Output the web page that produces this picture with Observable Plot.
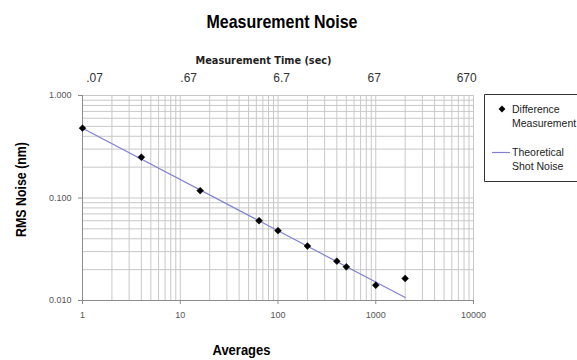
<!DOCTYPE html>
<html>
<head>
<meta charset="utf-8">
<script src="https://cdn.jsdelivr.net/npm/d3@7"></script>
<script src="https://cdn.jsdelivr.net/npm/@observablehq/plot@0.6"></script>
<style>
  html, body { margin: 0; padding: 0; background: white; }
</style>
</head>
<body>
<div id="chart"></div>
<script>
// ---- data ----
const averages = [1, 4, 16, 64, 100, 200, 400, 500, 1000, 2000];
const rmsNoise = [0.48, 0.25, 0.118, 0.060, 0.048, 0.034, 0.0242, 0.0213, 0.0141, 0.0164];
const shotAverages = [1, 2000];
const shotNoise = [0.48, 0.0107];
const xTicks = [1, 10, 100, 1000, 10000];
const xTickLabels = ["1", "10", "100", "1000", "10000"];
// secondary (top) axis: labels and where they sit, expressed in averages units
const topTickLabels = [".07", ".67", "6.7", "67", "670"];
const topTickAt = [1.33, 12.2, 109, 963, 8520];
const yTicks = [1, 0.1, 0.01];
const yTickLabels = ["1.000", "0.100", "0.010"];
const titleText = "Measurement Noise";
const topAxisTitle = "Measurement Time (sec)";
const xAxisTitle = "Averages";
const yAxisTitle = "RMS Noise (nm)";
const legendLines = ["Difference", "Measurement", "Theoretical", "Shot Noise"];

const points = averages.map((a, i) => ({a, v: rmsNoise[i]}));
const shot = shotAverages.map((a, i) => ({a, v: shotNoise[i]}));
const topTicks = topTickLabels.map((label, i) => ({label, at: topTickAt[i]}));
const xGrid = d3.scaleLog().domain([1, 10000]).ticks();
const yGrid = d3.scaleLog().domain([0.01, 1]).ticks();

const boldFont = "'Liberation Sans', Arial, sans-serif";
const gridColor = "#c8c8c8";
const axisColor = "#8c8c8c";
const lineColor = "#8080d4";

const svg = Plot.plot({
  width: 577,
  height: 360,
  marginLeft: 82,
  marginRight: 104,
  marginTop: 95,
  marginBottom: 60,
  style: {fontFamily: "'Liberation Sans', Arial, sans-serif", fontSize: "9px", color: "#555", background: "white"},
  x: {type: "log", domain: [1, 10000], axis: null},
  y: {type: "log", domain: [0.01, 1], axis: null},
  marks: [
    Plot.ruleX(xGrid, {stroke: gridColor, strokeWidth: 1}),
    Plot.ruleY(yGrid, {stroke: gridColor, strokeWidth: 1}),
    Plot.ruleX([1], {stroke: axisColor}),
    Plot.ruleY([0.01], {stroke: axisColor}),
    Plot.axisX(xTicks, {anchor: "bottom", tickSize: 4, tickPadding: 7, stroke: axisColor, color: "#555",
      tickFormat: (d) => xTickLabels[xTicks.indexOf(d)], label: null}),
    Plot.text(topTicks, {x: "at", text: "label", frameAnchor: "top", lineAnchor: "middle", textAnchor: "middle",
      dy: -17, fontSize: 12, fill: "#333"}),
    Plot.axisY(yTicks, {anchor: "left", tickSize: 4, tickPadding: 7, stroke: axisColor, color: "#555",
      tickFormat: (d) => yTickLabels[yTicks.indexOf(d)], label: null}),
    Plot.line(shot, {x: "a", y: "v", stroke: lineColor, strokeWidth: 1.2}),
    Plot.dot(points, {x: "a", y: "v", symbol: "diamond2", r: 3.1, fill: "black", stroke: "black", strokeWidth: 0.5}),
    Plot.text([titleText], {frameAnchor: "top", lineAnchor: "middle", textAnchor: "middle", dx: 4, dy: -74,
      fontSize: 19, fontWeight: "bold", fontFamily: boldFont, fill: "black"}),
    Plot.text([topAxisTitle], {frameAnchor: "top", lineAnchor: "middle", textAnchor: "middle", dx: -14.5, dy: -35,
      fontSize: 10.5, fontWeight: "bold", fontFamily: "'DejaVu Sans', Verdana, sans-serif", fill: "#222"}),
    Plot.text([xAxisTitle], {frameAnchor: "bottom", lineAnchor: "middle", textAnchor: "middle", dx: -36.5, dy: 50,
      fontSize: 15, fontWeight: "bold", fontFamily: boldFont, fill: "black"}),
    Plot.text([yAxisTitle], {frameAnchor: "left", lineAnchor: "middle", textAnchor: "middle", dx: -61, dy: -8.5,
      rotate: -90, fontSize: 15, fontWeight: "bold", fontFamily: boldFont, fill: "black"})
  ]
});

// condense the bold titles to match the narrow face of the original
const condense = {[titleText]: 151, [topAxisTitle]: 136, [xAxisTitle]: 58, [yAxisTitle]: 95};
d3.select(svg).selectAll("text").each(function() {
  const t = this.textContent;
  if (condense[t]) {
    this.setAttribute("textLength", condense[t]);
    this.setAttribute("lengthAdjust", "spacingAndGlyphs");
  }
});

// legend
const g = d3.select(svg).append("g").attr("text-anchor", "start");
g.append("path")
  .attr("d", "M600,94.5 H484.5 V181.5 H600")
  .style("fill", "none").style("stroke", "#333").style("stroke-width", "1");
g.append("path").attr("d", d3.symbol(d3.symbolSquare2, 30)())
  .attr("transform", "translate(502,109) rotate(45)").style("fill", "black");
g.append("line").attr("x1", 492).attr("x2", 510).attr("y1", 152.5).attr("y2", 152.5)
  .style("stroke", lineColor).style("stroke-width", "1.2");
const ly = [113, 127, 156, 170];
legendLines.forEach((t, i) => {
  g.append("text").attr("x", 512).attr("y", ly[i]).text(t)
    .style("font-family", "'Liberation Sans', Arial, sans-serif").style("font-size", "10.5px").style("fill", "#222");
});

document.getElementById("chart").appendChild(svg);
</script>
</body>
</html>
